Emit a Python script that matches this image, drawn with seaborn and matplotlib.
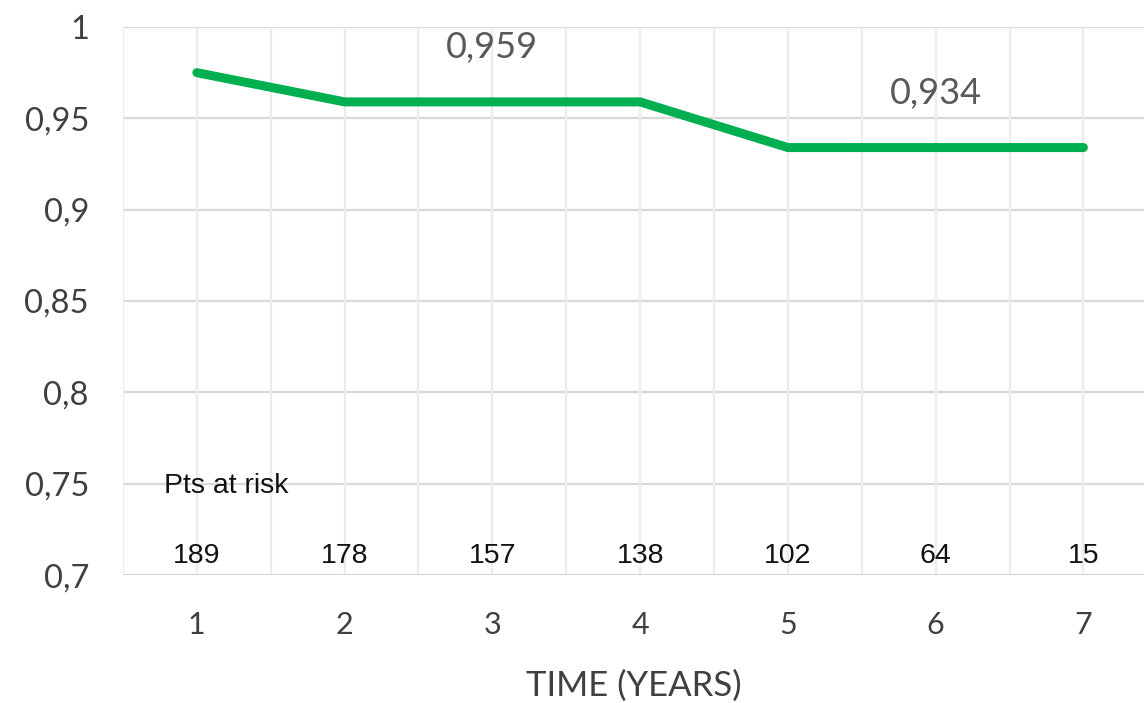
import numpy as np
import pandas as pd
import matplotlib
matplotlib.use("Agg")
import matplotlib.pyplot as plt
import seaborn as sns

# data
years = [1, 2, 3, 4, 5, 6, 7]
survival = [0.975, 0.959, 0.959, 0.959, 0.934, 0.934, 0.934]
pts_at_risk = [189, 178, 157, 138, 102, 64, 15]
y_ticks = [0.7, 0.75, 0.8, 0.85, 0.9, 0.95, 1.0]
y_tick_labels = ["0,7", "0,75", "0,8", "0,85", "0,9", "0,95", "1"]
labelled = {3: "0,959", 6: "0,934"}

df = pd.DataFrame({"year": years, "survival": survival})

sns.set_style("white")
plt.rcParams["font.family"] = ["Lato", "DejaVu Sans"]

fig = plt.figure(figsize=(11.44, 7.03), dpi=100)
ax = fig.add_axes([0.1075, 0.182, 0.8925, 0.7796])

sns.lineplot(data=df, x="year", y="survival", ax=ax, color="#00B050",
             linewidth=6.5, solid_capstyle="round", solid_joinstyle="miter")

ax.set_xlim(0.5, 7.41)
ax.set_ylim(0.7, 1.0)

# grid: horizontal at ticks, vertical every half year
for y in y_ticks[1:]:
    ax.axhline(y, color="#d9d9d9", lw=1.6, zorder=0)
for x in np.arange(0.5, 7.5, 0.5):
    ax.axvline(x, color="#ececec", lw=1.6, zorder=0)
ax.axhline(0.7, color="#d0d0d0", lw=2.0, zorder=1)

for s in ax.spines.values():
    s.set_visible(False)

ax.set_yticks(y_ticks)
ax.set_yticklabels(y_tick_labels)
ax.set_xticks(years)
ax.set_xticklabels([str(y) for y in years])
ax.tick_params(axis="both", length=0, colors="#404040")
ax.tick_params(axis="y", labelsize=23.5, pad=24.5)
ax.tick_params(axis="x", labelsize=22, pad=26)

ax.set_xlabel("TIME (YEARS)", fontsize=25, color="#404040", labelpad=22)
ax.set_ylabel("")

for yr, txt in labelled.items():
    ax.annotate(txt, (yr, survival[yr - 1]), xytext=(0, 39),
                textcoords="offset points", ha="center", va="center",
                fontsize=26, color="#595959")

# patients at risk
ax.text(0.78, 0.7485, "Pts at risk", fontsize=20.5, ha="left", va="center",
        family=["Liberation Sans", "DejaVu Sans"], color="#111111")
for yr, n in zip(years, pts_at_risk):
    ax.text(yr, 0.7105, str(n), fontsize=20.5, ha="center", va="center",
            family=["Liberation Sans", "DejaVu Sans"], color="#111111")

fig.savefig("out.png", dpi=100)
